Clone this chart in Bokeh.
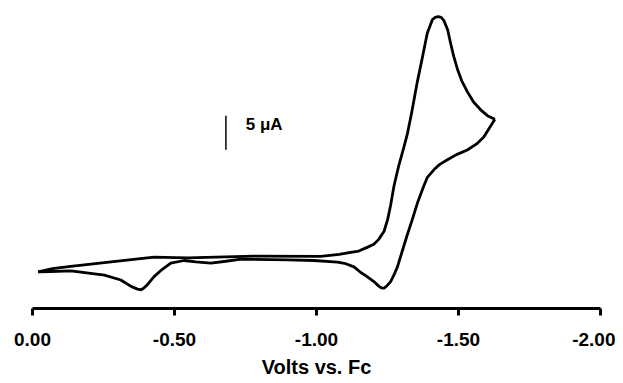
from bokeh.plotting import figure
from bokeh.models import Range1d, FixedTicker, NumeralTickFormatter
from bokeh.core.properties import value
from bokeh.embed import file_html
from bokeh.resources import INLINE

# Forward scan (0 V -> -1.63 V), potential in V vs Fc, current in uA (arbitrary offset)
fwd_v = [-0.020, -0.070, -0.135, -0.253, -0.428, -0.546, -0.780, -1.015, -1.080, -1.120,
         -1.149, -1.180, -1.202, -1.219, -1.238, -1.251, -1.261, -1.273, -1.289, -1.308,
         -1.320, -1.335, -1.355, -1.373, -1.390, -1.408, -1.418, -1.428, -1.439, -1.449,
         -1.462, -1.472, -1.483, -1.496, -1.511, -1.531, -1.553, -1.578, -1.602, -1.628]
fwd_i = [0.24, 0.70, 1.05, 1.60, 2.39, 2.29, 2.53, 2.50, 2.80, 3.10,
         3.29, 3.86, 4.29, 5.00, 6.19, 8.00, 10.00, 12.86, 15.71, 18.57,
         20.47, 23.57, 28.10, 31.71, 35.24, 37.21, 37.57, 37.67, 37.57, 37.07,
         35.71, 33.81, 31.86, 30.00, 28.29, 26.67, 25.14, 24.00, 23.14, 22.61]

# Return scan (-1.63 V -> 0 V)
rev_v = [-1.628, -1.589, -1.564, -1.531, -1.493, -1.461, -1.434, -1.414, -1.391, -1.378,
         -1.355, -1.337, -1.320, -1.302, -1.285, -1.272, -1.261, -1.247, -1.238, -1.228,
         -1.219, -1.202, -1.177, -1.156, -1.132, -1.103, -1.074, -0.991, -0.898, -0.779,
         -0.734, -0.681, -0.628, -0.575, -0.534, -0.487, -0.456, -0.428, -0.403, -0.390,
         -0.382, -0.370, -0.347, -0.311, -0.253, -0.135, -0.065, -0.020]
rev_i = [22.61, 20.00, 19.00, 18.10, 17.43, 16.67, 16.00, 15.24, 14.14, 12.86,
         10.29, 7.86, 5.71, 3.29, 0.96, -0.29, -1.19, -1.86, -2.14, -2.10,
         -1.86, -1.19, -0.43, 0.14, 0.96, 1.43, 1.67, 1.90, 2.00, 2.07,
         2.10, 1.79, 1.53, 1.71, 1.90, 1.50, 0.57, -0.47, -1.71, -2.20,
         -2.39, -2.30, -1.90, -0.96, -0.24, 0.39, 0.29, 0.24]

x_ticks = [0.0, -0.5, -1.0, -1.5, -2.0]
x_label = "Volts vs. Fc"

# Scale bar: 5 uA
bar_v = [-0.681, -0.681]
bar_i = [18.14, 23.14]
bar_text = ["5 μA"]
bar_text_v = [-0.751]
bar_text_i = [21.86]

FONT = "Liberation Sans"

p = figure(width=615, height=380, output_backend="svg", toolbar_location=None,
           x_range=Range1d(0, -2), y_range=Range1d(-5.14, 38.86),
           y_axis_location=None,
           min_border_left=32, min_border_right=15, min_border_top=8, min_border_bottom=64)
p.outline_line_color = None
p.xgrid.visible = False
p.ygrid.visible = False
p.background_fill_color = "white"
p.border_fill_color = "white"

p.line(fwd_v, fwd_i, line_color="black", line_width=2.8, line_join="round")
p.line(rev_v, rev_i, line_color="black", line_width=2.8, line_join="round")
p.line(bar_v, bar_i, line_color="black", line_width=1.5)
p.text(x=bar_text_v, y=bar_text_i, text=bar_text, text_font=value(FONT),
       text_font_style="bold", text_font_size="17px", text_align="left",
       text_baseline="middle", text_color="black")

ax = p.xaxis[0]
ax.ticker = FixedTicker(ticks=x_ticks)
ax.formatter = NumeralTickFormatter(format="0.00")
ax.minor_tick_line_color = None
ax.axis_line_width = 3
ax.axis_line_color = "black"
ax.major_tick_line_width = 3
ax.major_tick_line_color = "black"
ax.major_tick_in = 0
ax.major_tick_out = 7
ax.major_label_standoff = 17
ax.major_label_text_font = FONT
ax.major_label_text_font_style = "bold"
ax.major_label_text_font_size = "19px"
ax.major_label_text_color = "black"
ax.axis_label = x_label
ax.axis_label_text_font = FONT
ax.axis_label_text_font_style = "bold"
ax.axis_label_text_font_size = "20px"
ax.axis_label_text_color = "black"
ax.axis_label_standoff = 7

open("out.html", "w").write(file_html(p, INLINE))
